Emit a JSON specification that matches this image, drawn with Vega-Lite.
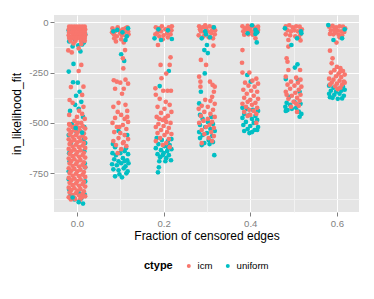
{
"$schema":"https://vega.github.io/schema/vega-lite/v6.json",
"width":305,"height":197,
"autosize":"none",
"padding":{"left":54,"top":15,"right":15,"bottom":87},
"background":"white",
"config":{
 "view":{"fill":"#E5E5E5","stroke":null},
 "font":"Liberation Sans",
 "axis":{"domain":false,"tickColor":"#7F7F7F","tickSize":4,"tickWidth":1,"labelColor":"#7F7F7F","labelFontSize":9.6,"labelPadding":2,"titleFontSize":12,"titleFontWeight":"normal","titleColor":"black","gridWidth":1}
},
"data":{"values":[
{"f":-0.018,"v":-95,"c":"uniform"},{"f":0.012,"v":-110,"c":"uniform"},{"f":0.019,"v":-60,"c":"uniform"},{"f":-0.010,"v":-120,"c":"uniform"},{"f":0.008,"v":-145,"c":"uniform"},{"f":0.016,"v":-100,"c":"uniform"},{"f":-0.019,"v":-40,"c":"uniform"},{"f":0.003,"v":-115,"c":"uniform"},{"f":-0.005,"v":-85,"c":"uniform"},{"f":0.015,"v":-30,"c":"uniform"},
{"f":-0.008,"v":-207,"c":"uniform"},{"f":-0.019,"v":-245,"c":"uniform"},{"f":-0.009,"v":-298,"c":"uniform"},{"f":0.002,"v":-300,"c":"uniform"},{"f":-0.002,"v":-365,"c":"uniform"},{"f":0.006,"v":-345,"c":"uniform"},{"f":-0.004,"v":-410,"c":"uniform"},{"f":0.010,"v":-395,"c":"uniform"},{"f":-0.016,"v":-440,"c":"uniform"},{"f":0.014,"v":-470,"c":"uniform"},{"f":0.004,"v":-430,"c":"uniform"},{"f":-0.012,"v":-505,"c":"uniform"},{"f":0.017,"v":-520,"c":"uniform"},
{"f":-0.019,"v":-560,"c":"uniform"},{"f":0.019,"v":-600,"c":"uniform"},{"f":-0.018,"v":-650,"c":"uniform"},{"f":0.018,"v":-700,"c":"uniform"},{"f":-0.019,"v":-740,"c":"uniform"},{"f":0.019,"v":-790,"c":"uniform"},{"f":-0.018,"v":-830,"c":"uniform"},{"f":0.018,"v":-855,"c":"uniform"},{"f":-0.015,"v":-860,"c":"uniform"},{"f":0.010,"v":-875,"c":"uniform"},{"f":0.014,"v":-900,"c":"uniform"},{"f":-0.006,"v":-880,"c":"uniform"},{"f":0.005,"v":-850,"c":"uniform"},{"f":-0.019,"v":-780,"c":"uniform"},{"f":0.019,"v":-720,"c":"uniform"},{"f":-0.017,"v":-690,"c":"uniform"},{"f":0.017,"v":-640,"c":"uniform"},{"f":0.016,"v":-580,"c":"uniform"},{"f":-0.014,"v":-600,"c":"uniform"},{"f":-0.002,"v":-540,"c":"uniform"},
{"f":0.102,"v":-159,"c":"uniform"},{"f":0.109,"v":-192,"c":"uniform"},{"f":0.096,"v":-540,"c":"uniform"},{"f":0.116,"v":-560,"c":"uniform"},{"f":0.083,"v":-605,"c":"uniform"},
{"f":0.082,"v":-650,"c":"uniform"},{"f":0.09,"v":-660,"c":"uniform"},{"f":0.1,"v":-650,"c":"uniform"},{"f":0.11,"v":-640,"c":"uniform"},{"f":0.118,"v":-655,"c":"uniform"},{"f":0.086,"v":-680,"c":"uniform"},{"f":0.096,"v":-690,"c":"uniform"},{"f":0.106,"v":-675,"c":"uniform"},{"f":0.116,"v":-685,"c":"uniform"},{"f":0.081,"v":-705,"c":"uniform"},{"f":0.092,"v":-710,"c":"uniform"},{"f":0.102,"v":-700,"c":"uniform"},{"f":0.112,"v":-715,"c":"uniform"},{"f":0.119,"v":-700,"c":"uniform"},{"f":0.084,"v":-730,"c":"uniform"},{"f":0.096,"v":-735,"c":"uniform"},{"f":0.108,"v":-725,"c":"uniform"},{"f":0.117,"v":-740,"c":"uniform"},{"f":0.088,"v":-765,"c":"uniform"},{"f":0.104,"v":-770,"c":"uniform"},{"f":0.114,"v":-750,"c":"uniform"},{"f":0.098,"v":-755,"c":"uniform"},{"f":0.11,"v":-690,"c":"uniform"},{"f":0.088,"v":-620,"c":"uniform"},{"f":0.113,"v":-625,"c":"uniform"},
{"f":0.212,"v":-242,"c":"uniform"},{"f":0.191,"v":-317,"c":"uniform"},
{"f":0.184,"v":-575,"c":"uniform"},{"f":0.196,"v":-585,"c":"uniform"},{"f":0.21,"v":-590,"c":"uniform"},{"f":0.218,"v":-580,"c":"uniform"},{"f":0.188,"v":-605,"c":"uniform"},{"f":0.202,"v":-615,"c":"uniform"},{"f":0.214,"v":-610,"c":"uniform"},{"f":0.182,"v":-625,"c":"uniform"},{"f":0.194,"v":-635,"c":"uniform"},{"f":0.208,"v":-640,"c":"uniform"},{"f":0.218,"v":-630,"c":"uniform"},{"f":0.186,"v":-655,"c":"uniform"},{"f":0.2,"v":-650,"c":"uniform"},{"f":0.212,"v":-660,"c":"uniform"},{"f":0.192,"v":-670,"c":"uniform"},{"f":0.206,"v":-675,"c":"uniform"},{"f":0.217,"v":-685,"c":"uniform"},{"f":0.19,"v":-690,"c":"uniform"},{"f":0.189,"v":-720,"c":"uniform"},{"f":0.187,"v":-745,"c":"uniform"},{"f":0.204,"v":-690,"c":"uniform"},{"f":0.198,"v":-660,"c":"uniform"},{"f":0.21,"v":-620,"c":"uniform"},
{"f":0.3,"v":-113,"c":"uniform"},{"f":0.294,"v":-138,"c":"uniform"},{"f":0.302,"v":-153,"c":"uniform"},{"f":0.295,"v":-254,"c":"uniform"},{"f":0.286,"v":-345,"c":"uniform"},{"f":0.282,"v":-403,"c":"uniform"},{"f":0.284,"v":-460,"c":"uniform"},{"f":0.31,"v":-470,"c":"uniform"},{"f":0.29,"v":-480,"c":"uniform"},{"f":0.302,"v":-495,"c":"uniform"},{"f":0.284,"v":-510,"c":"uniform"},{"f":0.314,"v":-505,"c":"uniform"},{"f":0.296,"v":-520,"c":"uniform"},{"f":0.308,"v":-530,"c":"uniform"},{"f":0.282,"v":-545,"c":"uniform"},{"f":0.318,"v":-540,"c":"uniform"},{"f":0.3,"v":-550,"c":"uniform"},{"f":0.29,"v":-560,"c":"uniform"},{"f":0.312,"v":-565,"c":"uniform"},{"f":0.284,"v":-575,"c":"uniform"},{"f":0.304,"v":-585,"c":"uniform"},{"f":0.294,"v":-600,"c":"uniform"},{"f":0.314,"v":-595,"c":"uniform"},{"f":0.288,"v":-610,"c":"uniform"},{"f":0.306,"v":-605,"c":"uniform"},{"f":0.317,"v":-660,"c":"uniform"},
{"f":0.393,"v":-262,"c":"uniform"},{"f":0.401,"v":-295,"c":"uniform"},{"f":0.382,"v":-425,"c":"uniform"},{"f":0.392,"v":-430,"c":"uniform"},{"f":0.406,"v":-435,"c":"uniform"},{"f":0.418,"v":-440,"c":"uniform"},{"f":0.386,"v":-455,"c":"uniform"},{"f":0.398,"v":-460,"c":"uniform"},{"f":0.412,"v":-465,"c":"uniform"},{"f":0.382,"v":-475,"c":"uniform"},{"f":0.404,"v":-480,"c":"uniform"},{"f":0.416,"v":-485,"c":"uniform"},{"f":0.39,"v":-495,"c":"uniform"},{"f":0.408,"v":-500,"c":"uniform"},{"f":0.384,"v":-510,"c":"uniform"},{"f":0.4,"v":-515,"c":"uniform"},{"f":0.418,"v":-520,"c":"uniform"},{"f":0.394,"v":-530,"c":"uniform"},{"f":0.41,"v":-535,"c":"uniform"},{"f":0.386,"v":-540,"c":"uniform"},{"f":0.404,"v":-545,"c":"uniform"},{"f":0.416,"v":-535,"c":"uniform"},{"f":0.398,"v":-550,"c":"uniform"},
{"f":0.509,"v":-209,"c":"uniform"},{"f":0.503,"v":-225,"c":"uniform"},{"f":0.482,"v":-282,"c":"uniform"},{"f":0.51,"v":-287,"c":"uniform"},{"f":0.49,"v":-370,"c":"uniform"},{"f":0.514,"v":-345,"c":"uniform"},{"f":0.484,"v":-400,"c":"uniform"},{"f":0.481,"v":-420,"c":"uniform"},{"f":0.492,"v":-410,"c":"uniform"},{"f":0.486,"v":-436,"c":"uniform"},{"f":0.496,"v":-430,"c":"uniform"},{"f":0.506,"v":-425,"c":"uniform"},{"f":0.512,"v":-444,"c":"uniform"},{"f":0.518,"v":-455,"c":"uniform"},{"f":0.514,"v":-469,"c":"uniform"},{"f":0.482,"v":-440,"c":"uniform"},{"f":0.502,"v":-395,"c":"uniform"},{"f":0.516,"v":-405,"c":"uniform"},
{"f":0.582,"v":-315,"c":"uniform"},{"f":0.592,"v":-325,"c":"uniform"},{"f":0.604,"v":-330,"c":"uniform"},{"f":0.614,"v":-320,"c":"uniform"},{"f":0.586,"v":-340,"c":"uniform"},{"f":0.598,"v":-345,"c":"uniform"},{"f":0.61,"v":-340,"c":"uniform"},{"f":0.618,"v":-335,"c":"uniform"},{"f":0.582,"v":-355,"c":"uniform"},{"f":0.594,"v":-360,"c":"uniform"},{"f":0.606,"v":-355,"c":"uniform"},{"f":0.616,"v":-365,"c":"uniform"},{"f":0.59,"v":-375,"c":"uniform"},{"f":0.602,"v":-380,"c":"uniform"},{"f":0.612,"v":-378,"c":"uniform"},{"f":0.584,"v":-372,"c":"uniform"},

{"f":-0.018,"v":-22,"c":"icm"},{"f":-0.012,"v":-22,"c":"icm"},{"f":-0.006,"v":-22,"c":"icm"},{"f":0.0,"v":-22,"c":"icm"},{"f":0.006,"v":-22,"c":"icm"},{"f":0.012,"v":-22,"c":"icm"},{"f":0.018,"v":-22,"c":"icm"},
{"f":-0.019,"v":-36,"c":"icm"},{"f":-0.009,"v":-36,"c":"icm"},{"f":-0.003,"v":-36,"c":"icm"},{"f":0.003,"v":-36,"c":"icm"},{"f":0.009,"v":-36,"c":"icm"},{"f":0.015,"v":-36,"c":"icm"},{"f":0.019,"v":-36,"c":"icm"},
{"f":-0.018,"v":-50,"c":"icm"},{"f":-0.012,"v":-50,"c":"icm"},{"f":-0.006,"v":-50,"c":"icm"},{"f":0.0,"v":-50,"c":"icm"},{"f":0.006,"v":-50,"c":"icm"},{"f":0.012,"v":-50,"c":"icm"},{"f":0.018,"v":-50,"c":"icm"},
{"f":-0.019,"v":-64,"c":"icm"},{"f":-0.009,"v":-64,"c":"icm"},{"f":-0.003,"v":-64,"c":"icm"},{"f":0.003,"v":-64,"c":"icm"},{"f":0.009,"v":-64,"c":"icm"},{"f":0.015,"v":-64,"c":"icm"},{"f":0.019,"v":-64,"c":"icm"},
{"f":-0.018,"v":-78,"c":"icm"},{"f":-0.012,"v":-78,"c":"icm"},{"f":-0.006,"v":-78,"c":"icm"},{"f":0.0,"v":-78,"c":"icm"},{"f":0.006,"v":-78,"c":"icm"},{"f":0.012,"v":-78,"c":"icm"},{"f":0.018,"v":-78,"c":"icm"},
{"f":-0.015,"v":-92,"c":"icm"},{"f":-0.003,"v":-92,"c":"icm"},{"f":0.009,"v":-92,"c":"icm"},{"f":0.018,"v":-92,"c":"icm"},
{"f":-0.020,"v":-140,"c":"icm"},{"f":-0.012,"v":-150,"c":"icm"},{"f":0.004,"v":-130,"c":"icm"},{"f":0.010,"v":-108,"c":"icm"},{"f":-0.008,"v":-105,"c":"icm"},
{"f":0.010,"v":-212,"c":"icm"},{"f":0.004,"v":-242,"c":"icm"},{"f":0.015,"v":-320,"c":"icm"},{"f":-0.014,"v":-322,"c":"icm"},{"f":-0.017,"v":-386,"c":"icm"},{"f":0.012,"v":-361,"c":"icm"},{"f":-0.010,"v":-400,"c":"icm"},{"f":0.015,"v":-420,"c":"icm"},{"f":0.005,"v":-440,"c":"icm"},{"f":-0.018,"v":-460,"c":"icm"},{"f":0.012,"v":-455,"c":"icm"},{"f":0.0,"v":-470,"c":"icm"},{"f":-0.006,"v":-490,"c":"icm"},{"f":0.018,"v":-480,"c":"icm"},{"f":-0.018,"v":-505,"c":"icm"},{"f":0.010,"v":-500,"c":"icm"},{"f":0.002,"v":-500,"c":"icm"},
{"f":-0.017,"v":-509,"c":"icm"},{"f":-0.002,"v":-512,"c":"icm"},{"f":0.013,"v":-516,"c":"icm"},
{"f":-0.010,"v":-521,"c":"icm"},{"f":0.005,"v":-524,"c":"icm"},{"f":0.019,"v":-528,"c":"icm"},
{"f":-0.019,"v":-533,"c":"icm"},{"f":-0.006,"v":-536,"c":"icm"},{"f":0.008,"v":-540,"c":"icm"},
{"f":-0.013,"v":-545,"c":"icm"},{"f":0.001,"v":-548,"c":"icm"},{"f":0.016,"v":-552,"c":"icm"},
{"f":-0.017,"v":-557,"c":"icm"},{"f":-0.002,"v":-560,"c":"icm"},{"f":0.013,"v":-564,"c":"icm"},
{"f":-0.010,"v":-569,"c":"icm"},{"f":0.005,"v":-572,"c":"icm"},{"f":0.019,"v":-576,"c":"icm"},
{"f":-0.019,"v":-581,"c":"icm"},{"f":-0.006,"v":-584,"c":"icm"},{"f":0.008,"v":-588,"c":"icm"},
{"f":-0.013,"v":-593,"c":"icm"},{"f":0.001,"v":-596,"c":"icm"},{"f":0.016,"v":-600,"c":"icm"},
{"f":-0.017,"v":-605,"c":"icm"},{"f":-0.002,"v":-608,"c":"icm"},{"f":0.013,"v":-612,"c":"icm"},
{"f":-0.010,"v":-617,"c":"icm"},{"f":0.005,"v":-620,"c":"icm"},{"f":0.019,"v":-624,"c":"icm"},
{"f":-0.019,"v":-629,"c":"icm"},{"f":-0.006,"v":-632,"c":"icm"},{"f":0.008,"v":-636,"c":"icm"},
{"f":-0.013,"v":-641,"c":"icm"},{"f":0.001,"v":-644,"c":"icm"},{"f":0.016,"v":-648,"c":"icm"},
{"f":-0.017,"v":-653,"c":"icm"},{"f":-0.002,"v":-656,"c":"icm"},{"f":0.013,"v":-660,"c":"icm"},
{"f":-0.010,"v":-665,"c":"icm"},{"f":0.005,"v":-668,"c":"icm"},{"f":0.019,"v":-672,"c":"icm"},
{"f":-0.019,"v":-677,"c":"icm"},{"f":-0.006,"v":-680,"c":"icm"},{"f":0.008,"v":-684,"c":"icm"},
{"f":-0.013,"v":-689,"c":"icm"},{"f":0.001,"v":-692,"c":"icm"},{"f":0.016,"v":-696,"c":"icm"},
{"f":-0.017,"v":-701,"c":"icm"},{"f":-0.002,"v":-704,"c":"icm"},{"f":0.013,"v":-708,"c":"icm"},
{"f":-0.010,"v":-713,"c":"icm"},{"f":0.005,"v":-716,"c":"icm"},{"f":0.019,"v":-720,"c":"icm"},
{"f":-0.019,"v":-725,"c":"icm"},{"f":-0.006,"v":-728,"c":"icm"},{"f":0.008,"v":-732,"c":"icm"},
{"f":-0.013,"v":-737,"c":"icm"},{"f":0.001,"v":-740,"c":"icm"},{"f":0.016,"v":-744,"c":"icm"},
{"f":-0.017,"v":-749,"c":"icm"},{"f":-0.002,"v":-752,"c":"icm"},{"f":0.013,"v":-756,"c":"icm"},
{"f":-0.010,"v":-761,"c":"icm"},{"f":0.005,"v":-764,"c":"icm"},{"f":0.019,"v":-768,"c":"icm"},
{"f":-0.019,"v":-773,"c":"icm"},{"f":-0.006,"v":-776,"c":"icm"},{"f":0.008,"v":-780,"c":"icm"},
{"f":-0.013,"v":-785,"c":"icm"},{"f":0.001,"v":-788,"c":"icm"},{"f":0.016,"v":-792,"c":"icm"},
{"f":-0.017,"v":-797,"c":"icm"},{"f":-0.002,"v":-800,"c":"icm"},{"f":0.013,"v":-804,"c":"icm"},
{"f":-0.010,"v":-809,"c":"icm"},{"f":0.005,"v":-812,"c":"icm"},{"f":0.019,"v":-816,"c":"icm"},
{"f":-0.019,"v":-821,"c":"icm"},{"f":-0.006,"v":-824,"c":"icm"},{"f":0.008,"v":-828,"c":"icm"},
{"f":-0.013,"v":-833,"c":"icm"},{"f":0.001,"v":-836,"c":"icm"},{"f":0.016,"v":-840,"c":"icm"},
{"f":-0.017,"v":-845,"c":"icm"},{"f":-0.002,"v":-848,"c":"icm"},{"f":0.013,"v":-852,"c":"icm"},
{"f":-0.010,"v":-857,"c":"icm"},{"f":0.005,"v":-860,"c":"icm"},{"f":0.019,"v":-864,"c":"icm"},
{"f":-0.019,"v":-869,"c":"icm"},{"f":-0.006,"v":-872,"c":"icm"},{"f":0.008,"v":-876,"c":"icm"},
{"f":-0.014,"v":-880,"c":"icm"},{"f":0.006,"v":-885,"c":"icm"},{"f":-0.004,"v":-878,"c":"icm"},{"f":0.012,"v":-868,"c":"icm"},

{"f":0.082,"v":-30,"c":"icm"},{"f":0.088,"v":-45,"c":"icm"},{"f":0.094,"v":-25,"c":"icm"},{"f":0.1,"v":-55,"c":"icm"},{"f":0.106,"v":-35,"c":"icm"},{"f":0.112,"v":-30,"c":"icm"},{"f":0.118,"v":-45,"c":"icm"},{"f":0.085,"v":-60,"c":"icm"},{"f":0.092,"v":-70,"c":"icm"},{"f":0.104,"v":-65,"c":"icm"},{"f":0.11,"v":-50,"c":"icm"},{"f":0.116,"v":-25,"c":"icm"},{"f":0.097,"v":-40,"c":"icm"},{"f":0.114,"v":-70,"c":"icm"},{"f":0.081,"v":-50,"c":"icm"},{"f":0.102,"v":-85,"c":"icm"},{"f":0.09,"v":-95,"c":"icm"},{"f":0.108,"v":-100,"c":"icm"},{"f":0.119,"v":-60,"c":"icm"},{"f":0.086,"v":-80,"c":"icm"},
{"f":0.111,"v":-138,"c":"icm"},{"f":0.106,"v":-179,"c":"icm"},{"f":0.107,"v":-229,"c":"icm"},{"f":0.085,"v":-288,"c":"icm"},{"f":0.092,"v":-295,"c":"icm"},{"f":0.1,"v":-300,"c":"icm"},{"f":0.112,"v":-285,"c":"icm"},{"f":0.118,"v":-305,"c":"icm"},{"f":0.088,"v":-330,"c":"icm"},{"f":0.108,"v":-330,"c":"icm"},{"f":0.104,"v":-355,"c":"icm"},{"f":0.096,"v":-400,"c":"icm"},{"f":0.112,"v":-410,"c":"icm"},{"f":0.084,"v":-420,"c":"icm"},{"f":0.116,"v":-440,"c":"icm"},{"f":0.094,"v":-445,"c":"icm"},{"f":0.102,"v":-460,"c":"icm"},{"f":0.088,"v":-475,"c":"icm"},{"f":0.11,"v":-480,"c":"icm"},{"f":0.082,"v":-500,"c":"icm"},{"f":0.118,"v":-495,"c":"icm"},{"f":0.106,"v":-510,"c":"icm"},{"f":0.092,"v":-520,"c":"icm"},{"f":0.114,"v":-530,"c":"icm"},{"f":0.086,"v":-545,"c":"icm"},{"f":0.1,"v":-550,"c":"icm"},{"f":0.11,"v":-560,"c":"icm"},{"f":0.096,"v":-575,"c":"icm"},{"f":0.118,"v":-580,"c":"icm"},{"f":0.084,"v":-590,"c":"icm"},{"f":0.106,"v":-600,"c":"icm"},{"f":0.09,"v":-610,"c":"icm"},{"f":0.114,"v":-615,"c":"icm"},{"f":0.102,"v":-630,"c":"icm"},{"f":0.094,"v":-650,"c":"icm"},{"f":0.108,"v":-595,"c":"icm"},{"f":0.098,"v":-520,"c":"icm"},{"f":0.116,"v":-470,"c":"icm"},

{"f":0.182,"v":-25,"c":"icm"},{"f":0.19,"v":-30,"c":"icm"},{"f":0.196,"v":-20,"c":"icm"},{"f":0.204,"v":-35,"c":"icm"},{"f":0.212,"v":-25,"c":"icm"},{"f":0.218,"v":-40,"c":"icm"},{"f":0.186,"v":-50,"c":"icm"},{"f":0.194,"v":-45,"c":"icm"},{"f":0.208,"v":-55,"c":"icm"},{"f":0.216,"v":-60,"c":"icm"},{"f":0.181,"v":-60,"c":"icm"},{"f":0.2,"v":-65,"c":"icm"},{"f":0.21,"v":-75,"c":"icm"},{"f":0.19,"v":-70,"c":"icm"},{"f":0.219,"v":-20,"c":"icm"},{"f":0.198,"v":-85,"c":"icm"},
{"f":0.187,"v":-113,"c":"icm"},{"f":0.216,"v":-174,"c":"icm"},{"f":0.193,"v":-212,"c":"icm"},{"f":0.214,"v":-212,"c":"icm"},{"f":0.206,"v":-255,"c":"icm"},{"f":0.195,"v":-278,"c":"icm"},{"f":0.181,"v":-328,"c":"icm"},{"f":0.199,"v":-340,"c":"icm"},{"f":0.209,"v":-340,"c":"icm"},{"f":0.217,"v":-340,"c":"icm"},{"f":0.182,"v":-360,"c":"icm"},{"f":0.191,"v":-380,"c":"icm"},{"f":0.205,"v":-395,"c":"icm"},{"f":0.214,"v":-410,"c":"icm"},{"f":0.186,"v":-420,"c":"icm"},{"f":0.202,"v":-430,"c":"icm"},{"f":0.194,"v":-450,"c":"icm"},{"f":0.218,"v":-445,"c":"icm"},{"f":0.21,"v":-465,"c":"icm"},{"f":0.184,"v":-470,"c":"icm"},{"f":0.198,"v":-485,"c":"icm"},{"f":0.206,"v":-495,"c":"icm"},{"f":0.216,"v":-500,"c":"icm"},{"f":0.188,"v":-505,"c":"icm"},{"f":0.2,"v":-515,"c":"icm"},{"f":0.182,"v":-520,"c":"icm"},{"f":0.212,"v":-525,"c":"icm"},{"f":0.194,"v":-535,"c":"icm"},{"f":0.208,"v":-545,"c":"icm"},{"f":0.218,"v":-555,"c":"icm"},{"f":0.186,"v":-550,"c":"icm"},{"f":0.202,"v":-560,"c":"icm"},{"f":0.192,"v":-575,"c":"icm"},{"f":0.212,"v":-580,"c":"icm"},{"f":0.182,"v":-590,"c":"icm"},{"f":0.206,"v":-600,"c":"icm"},{"f":0.198,"v":-610,"c":"icm"},{"f":0.214,"v":-620,"c":"icm"},{"f":0.19,"v":-480,"c":"icm"},{"f":0.204,"v":-475,"c":"icm"},

{"f":0.282,"v":-20,"c":"icm"},{"f":0.29,"v":-25,"c":"icm"},{"f":0.298,"v":-30,"c":"icm"},{"f":0.306,"v":-20,"c":"icm"},{"f":0.314,"v":-25,"c":"icm"},{"f":0.319,"v":-40,"c":"icm"},{"f":0.286,"v":-45,"c":"icm"},{"f":0.294,"v":-50,"c":"icm"},{"f":0.302,"v":-45,"c":"icm"},{"f":0.31,"v":-55,"c":"icm"},{"f":0.318,"v":-60,"c":"icm"},{"f":0.281,"v":-65,"c":"icm"},{"f":0.292,"v":-70,"c":"icm"},{"f":0.304,"v":-75,"c":"icm"},{"f":0.314,"v":-80,"c":"icm"},{"f":0.296,"v":-15,"c":"icm"},{"f":0.312,"v":-40,"c":"icm"},{"f":0.284,"v":-35,"c":"icm"},
{"f":0.315,"v":-116,"c":"icm"},{"f":0.286,"v":-187,"c":"icm"},{"f":0.298,"v":-212,"c":"icm"},{"f":0.282,"v":-270,"c":"icm"},{"f":0.285,"v":-295,"c":"icm"},{"f":0.307,"v":-295,"c":"icm"},{"f":0.313,"v":-311,"c":"icm"},{"f":0.318,"v":-320,"c":"icm"},{"f":0.285,"v":-320,"c":"icm"},{"f":0.316,"v":-345,"c":"icm"},{"f":0.312,"v":-370,"c":"icm"},{"f":0.296,"v":-385,"c":"icm"},{"f":0.308,"v":-390,"c":"icm"},{"f":0.318,"v":-405,"c":"icm"},{"f":0.288,"v":-415,"c":"icm"},{"f":0.302,"v":-420,"c":"icm"},{"f":0.281,"v":-430,"c":"icm"},{"f":0.314,"v":-435,"c":"icm"},{"f":0.294,"v":-445,"c":"icm"},{"f":0.308,"v":-455,"c":"icm"},{"f":0.286,"v":-465,"c":"icm"},{"f":0.318,"v":-470,"c":"icm"},{"f":0.302,"v":-480,"c":"icm"},{"f":0.292,"v":-490,"c":"icm"},{"f":0.312,"v":-495,"c":"icm"},{"f":0.282,"v":-500,"c":"icm"},{"f":0.306,"v":-510,"c":"icm"},{"f":0.298,"v":-520,"c":"icm"},{"f":0.316,"v":-525,"c":"icm"},{"f":0.288,"v":-535,"c":"icm"},{"f":0.31,"v":-545,"c":"icm"},{"f":0.316,"v":-565,"c":"icm"},{"f":0.294,"v":-555,"c":"icm"},{"f":0.304,"v":-575,"c":"icm"},{"f":0.288,"v":-600,"c":"icm"},{"f":0.312,"v":-590,"c":"icm"},

{"f":0.382,"v":-20,"c":"icm"},{"f":0.388,"v":-30,"c":"icm"},{"f":0.394,"v":-18,"c":"icm"},{"f":0.4,"v":-25,"c":"icm"},{"f":0.406,"v":-20,"c":"icm"},{"f":0.412,"v":-28,"c":"icm"},{"f":0.418,"v":-22,"c":"icm"},{"f":0.384,"v":-45,"c":"icm"},{"f":0.392,"v":-40,"c":"icm"},{"f":0.402,"v":-45,"c":"icm"},{"f":0.41,"v":-42,"c":"icm"},{"f":0.416,"v":-50,"c":"icm"},{"f":0.396,"v":-60,"c":"icm"},{"f":0.406,"v":-62,"c":"icm"},{"f":0.386,"v":-62,"c":"icm"},{"f":0.412,"v":-80,"c":"icm"},{"f":0.398,"v":-35,"c":"icm"},{"f":0.418,"v":-38,"c":"icm"},
{"f":0.382,"v":-138,"c":"icm"},{"f":0.381,"v":-201,"c":"icm"},{"f":0.382,"v":-250,"c":"icm"},{"f":0.398,"v":-250,"c":"icm"},{"f":0.414,"v":-280,"c":"icm"},{"f":0.405,"v":-290,"c":"icm"},{"f":0.388,"v":-300,"c":"icm"},{"f":0.418,"v":-305,"c":"icm"},{"f":0.396,"v":-315,"c":"icm"},{"f":0.41,"v":-320,"c":"icm"},{"f":0.384,"v":-335,"c":"icm"},{"f":0.402,"v":-340,"c":"icm"},{"f":0.416,"v":-345,"c":"icm"},{"f":0.392,"v":-355,"c":"icm"},{"f":0.408,"v":-365,"c":"icm"},{"f":0.386,"v":-375,"c":"icm"},{"f":0.418,"v":-380,"c":"icm"},{"f":0.4,"v":-385,"c":"icm"},{"f":0.394,"v":-395,"c":"icm"},{"f":0.412,"v":-400,"c":"icm"},{"f":0.382,"v":-405,"c":"icm"},{"f":0.404,"v":-410,"c":"icm"},{"f":0.39,"v":-420,"c":"icm"},{"f":0.416,"v":-425,"c":"icm"},{"f":0.398,"v":-435,"c":"icm"},{"f":0.408,"v":-440,"c":"icm"},{"f":0.386,"v":-445,"c":"icm"},{"f":0.414,"v":-455,"c":"icm"},{"f":0.4,"v":-460,"c":"icm"},{"f":0.414,"v":-500,"c":"icm"},{"f":0.394,"v":-465,"c":"icm"},

{"f":0.482,"v":-20,"c":"icm"},{"f":0.49,"v":-15,"c":"icm"},{"f":0.498,"v":-25,"c":"icm"},{"f":0.506,"v":-20,"c":"icm"},{"f":0.514,"v":-22,"c":"icm"},{"f":0.519,"v":-35,"c":"icm"},{"f":0.486,"v":-40,"c":"icm"},{"f":0.494,"v":-45,"c":"icm"},{"f":0.502,"v":-40,"c":"icm"},{"f":0.51,"v":-45,"c":"icm"},{"f":0.516,"v":-60,"c":"icm"},{"f":0.482,"v":-60,"c":"icm"},{"f":0.492,"v":-65,"c":"icm"},{"f":0.504,"v":-70,"c":"icm"},{"f":0.488,"v":-88,"c":"icm"},{"f":0.512,"v":-75,"c":"icm"},{"f":0.516,"v":-90,"c":"icm"},
{"f":0.488,"v":-121,"c":"icm"},{"f":0.484,"v":-179,"c":"icm"},{"f":0.486,"v":-196,"c":"icm"},{"f":0.488,"v":-237,"c":"icm"},{"f":0.515,"v":-237,"c":"icm"},{"f":0.482,"v":-270,"c":"icm"},{"f":0.506,"v":-275,"c":"icm"},{"f":0.516,"v":-285,"c":"icm"},{"f":0.494,"v":-295,"c":"icm"},{"f":0.51,"v":-300,"c":"icm"},{"f":0.486,"v":-310,"c":"icm"},{"f":0.502,"v":-315,"c":"icm"},{"f":0.518,"v":-320,"c":"icm"},{"f":0.492,"v":-330,"c":"icm"},{"f":0.512,"v":-335,"c":"icm"},{"f":0.482,"v":-345,"c":"icm"},{"f":0.504,"v":-350,"c":"icm"},{"f":0.516,"v":-360,"c":"icm"},{"f":0.496,"v":-365,"c":"icm"},{"f":0.508,"v":-375,"c":"icm"},{"f":0.488,"v":-380,"c":"icm"},{"f":0.514,"v":-390,"c":"icm"},{"f":0.5,"v":-395,"c":"icm"},{"f":0.484,"v":-360,"c":"icm"},{"f":0.506,"v":-405,"c":"icm"},{"f":0.512,"v":-415,"c":"icm"},{"f":0.494,"v":-420,"c":"icm"},{"f":0.508,"v":-445,"c":"icm"},

{"f":0.582,"v":-22,"c":"icm"},{"f":0.59,"v":-18,"c":"icm"},{"f":0.598,"v":-25,"c":"icm"},{"f":0.606,"v":-20,"c":"icm"},{"f":0.614,"v":-22,"c":"icm"},{"f":0.619,"v":-30,"c":"icm"},{"f":0.586,"v":-40,"c":"icm"},{"f":0.594,"v":-38,"c":"icm"},{"f":0.602,"v":-42,"c":"icm"},{"f":0.61,"v":-45,"c":"icm"},{"f":0.617,"v":-48,"c":"icm"},{"f":0.584,"v":-58,"c":"icm"},{"f":0.592,"v":-60,"c":"icm"},{"f":0.604,"v":-62,"c":"icm"},{"f":0.612,"v":-65,"c":"icm"},{"f":0.599,"v":-101,"c":"icm"},{"f":0.606,"v":-75,"c":"icm"},{"f":0.596,"v":-52,"c":"icm"},
{"f":0.584,"v":-141,"c":"icm"},{"f":0.59,"v":-179,"c":"icm"},{"f":0.588,"v":-204,"c":"icm"},{"f":0.6,"v":-222,"c":"icm"},{"f":0.608,"v":-228,"c":"icm"},{"f":0.594,"v":-238,"c":"icm"},{"f":0.614,"v":-242,"c":"icm"},{"f":0.586,"v":-250,"c":"icm"},{"f":0.604,"v":-255,"c":"icm"},{"f":0.618,"v":-260,"c":"icm"},{"f":0.598,"v":-268,"c":"icm"},{"f":0.61,"v":-272,"c":"icm"},{"f":0.582,"v":-280,"c":"icm"},{"f":0.592,"v":-285,"c":"icm"},{"f":0.606,"v":-290,"c":"icm"},{"f":0.616,"v":-295,"c":"icm"},{"f":0.588,"v":-300,"c":"icm"},{"f":0.6,"v":-305,"c":"icm"},{"f":0.612,"v":-310,"c":"icm"},{"f":0.596,"v":-318,"c":"icm"},{"f":0.608,"v":-325,"c":"icm"},{"f":0.584,"v":-310,"c":"icm"},{"f":0.618,"v":-300,"c":"icm"},{"f":0.602,"v":-332,"c":"icm"},{"f":0.608,"v":-245,"c":"icm"},

{"f":0.093,"v":-38,"c":"uniform"},{"f":0.112,"v":-88,"c":"uniform"},{"f":0.084,"v":-45,"c":"uniform"},{"f":0.105,"v":-50,"c":"uniform"},{"f":0.118,"v":-30,"c":"uniform"},{"f":0.115,"v":-70,"c":"uniform"},
{"f":0.179,"v":-80,"c":"uniform"},{"f":0.194,"v":-88,"c":"uniform"},{"f":0.219,"v":-83,"c":"uniform"},{"f":0.21,"v":-40,"c":"uniform"},{"f":0.188,"v":-35,"c":"uniform"},
{"f":0.296,"v":-45,"c":"uniform"},{"f":0.298,"v":-60,"c":"uniform"},{"f":0.316,"v":-25,"c":"uniform"},{"f":0.307,"v":-75,"c":"uniform"},{"f":0.288,"v":-80,"c":"uniform"},
{"f":0.412,"v":-38,"c":"uniform"},{"f":0.416,"v":-50,"c":"uniform"},{"f":0.412,"v":-58,"c":"uniform"},{"f":0.415,"v":-100,"c":"uniform"},{"f":0.394,"v":-55,"c":"uniform"},{"f":0.404,"v":-15,"c":"uniform"},
{"f":0.48,"v":-30,"c":"uniform"},{"f":0.518,"v":-55,"c":"uniform"},{"f":0.517,"v":-45,"c":"uniform"},{"f":0.495,"v":-113,"c":"uniform"},{"f":0.508,"v":-80,"c":"uniform"},
{"f":0.58,"v":-14,"c":"uniform"},{"f":0.592,"v":-88,"c":"uniform"},{"f":0.618,"v":-35,"c":"uniform"},{"f":0.612,"v":-80,"c":"uniform"},
{"f":-0.003,"v":-525,"c":"uniform"},{"f":0.012,"v":-548,"c":"uniform"},{"f":-0.010,"v":-870,"c":"uniform"},{"f":0.004,"v":-893,"c":"uniform"}
]},
"mark":{"type":"point","filled":true,"opacity":1,"size":22},
"encoding":{
 "x":{"field":"f","type":"quantitative",
  "scale":{"domain":[-0.053,0.651],"nice":false,"zero":false},
  "axis":{"title":"Fraction of censored edges","values":[0,0.1,0.2,0.3,0.4,0.5,0.6],
   "labelExpr":"round(datum.value*10)%2==0 ? format(datum.value,'.1f') : ''",
   "gridColor":{"condition":{"test":"round(datum.value*10)%2==0","value":"white"},"value":"#F2F2F2"},
   "tickOpacity":{"condition":{"test":"round(datum.value*10)%2==0","value":1},"value":0},
   "titlePadding":3}},
 "y":{"field":"v","type":"quantitative",
  "scale":{"domain":[-942,36],"nice":false,"zero":false},
  "axis":{"title":"in_likelihood_fit","values":[-875,-750,-625,-500,-375,-250,-125,0],
   "labelExpr":"datum.value % 250 == 0 ? (datum.value == 0 ? '0' : '-' + abs(datum.value)) : ''",
   "gridColor":{"condition":{"test":"datum.value % 250 == 0","value":"white"},"value":"#F2F2F2"},
   "tickOpacity":{"condition":{"test":"datum.value % 250 == 0","value":1},"value":0},
   "titlePadding":5}},
 "color":{"field":"c","type":"nominal",
  "scale":{"domain":["icm","uniform"],"range":["#F8766D","#00BFC4"]},
  "legend":{"orient":"none","legendX":90,"legendY":246,"direction":"horizontal","title":"ctype","titleOrient":"left","titleFontSize":11,"titleFontWeight":"bold","titleColor":"black","titlePadding":11,"labelFontSize":9.6,"labelColor":"black","symbolSize":16,"symbolType":"circle","columnPadding":10,"labelOffset":4}}
}
}
